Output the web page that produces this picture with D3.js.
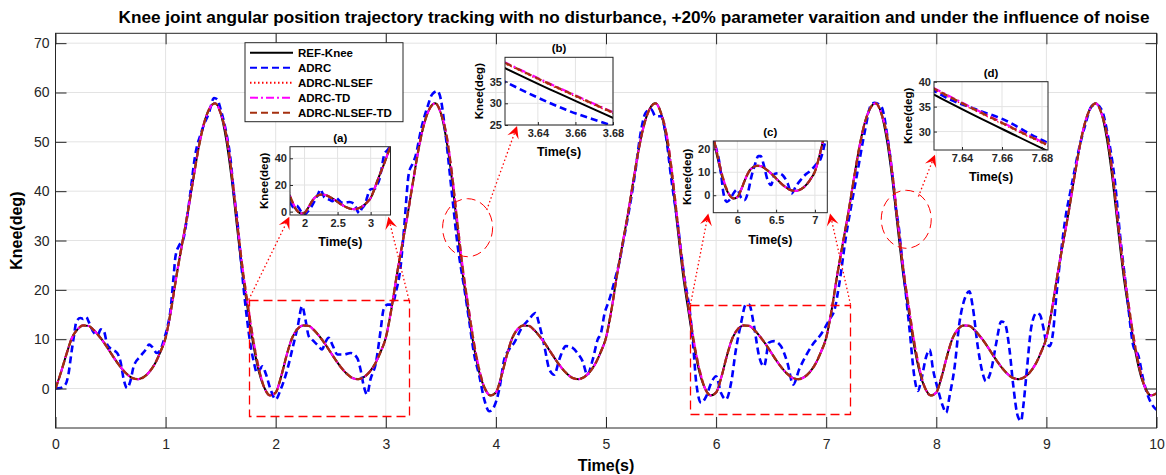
<!DOCTYPE html>
<html>
<head>
<meta charset="utf-8">
<script src="https://cdn.jsdelivr.net/npm/d3@7"></script>
<style>
  body { margin: 0; background: #fff; }
  svg { display: block; font-family: "Liberation Sans", Arial, sans-serif; }
</style>
</head>
<body>
<svg id="chart" width="1166" height="475"></svg>
<script>
// ---- data ----
const sampleStep = 0.05; // reference + controller traces sampled every 0.05 s

const refKnee = [
  0, 3.3, 7, 10.3, 12, 12.8, 12.7, 11.8, 10.5, 9, 7.3, 5.6, 4.1, 2.9, 2.1, 1.9, 2.3, 3.3, 4.9, 7.3, 10.3, 16, 23, 29.3, 35.5, 42.3, 48.8, 53.8, 56.8, 57.8, 55.8, 50.5, 42.5, 32.5, 23, 15.5, 8.5, 3.2, 0, -1.4,
  -0.8, 2.5, 6.8, 10.3, 12.1, 12.8, 12.7, 11.8, 10.5, 9, 7.3, 5.6, 4.1, 2.9, 2.1, 1.9, 2.3, 3.3, 4.9, 7.3, 10.3, 16, 23, 29.3, 35.5, 42.3, 48.8, 53.8, 56.8, 57.8, 55.8, 50.5, 42.5, 32.5, 23, 15.5, 8.5, 3.2, 0, -1.4,
  -0.8, 2.5, 6.8, 10.3, 12.1, 12.8, 12.7, 11.8, 10.5, 9, 7.3, 5.6, 4.1, 2.9, 2.1, 1.9, 2.3, 3.3, 4.9, 7.3, 10.3, 16, 23, 29.3, 35.5, 42.3, 48.8, 53.8, 56.8, 57.8, 55.8, 50.5, 42.5, 32.5, 23, 15.5, 8.5, 3.2, 0, -1.4,
  -0.8, 2.5, 6.8, 10.3, 12.1, 12.8, 12.7, 11.8, 10.5, 9, 7.3, 5.6, 4.1, 2.9, 2.1, 1.9, 2.3, 3.3, 4.9, 7.3, 10.3, 16, 23, 29.3, 35.5, 42.3, 48.8, 53.8, 56.8, 57.8, 55.8, 50.5, 42.5, 32.5, 23, 15.5, 8.5, 3.2, 0, -1.4,
  -0.8, 2.5, 6.8, 10.3, 12.1, 12.8, 12.7, 11.8, 10.5, 9, 7.3, 5.6, 4.1, 2.9, 2.1, 1.9, 2.3, 3.3, 4.9, 7.3, 10.3, 16, 23, 29.3, 35.5, 42.3, 48.8, 53.8, 56.8, 57.8, 55.8, 50.5, 42.5, 32.5, 23, 15.5, 8.5, 3.2, 0, -1.4,
  -1.0
];
const adrcNlsef = [
  0, 3.3, 7, 10.3, 12, 12.8, 12.7, 11.8, 10.5, 9, 7.3, 5.6, 4.1, 2.9, 2.1, 1.9, 2.3, 3.3, 4.9, 7.3, 10.3, 16, 23, 29.3, 35.5, 42.3, 48.8, 53.8, 56.8, 57.8, 55.8, 51.4, 43.5, 33.5, 24, 16.3, 9.2, 3.6, 0, -1.4,
  -0.8, 2.5, 6.8, 10.3, 12.1, 12.8, 12.7, 11.8, 10.5, 9, 7.3, 5.6, 4.1, 2.9, 2.1, 1.9, 2.3, 3.3, 4.9, 7.3, 10.3, 16, 23, 29.3, 35.5, 42.3, 48.8, 53.8, 56.8, 57.8, 55.8, 51.4, 43.5, 33.5, 24, 16.3, 9.2, 3.6, 0, -1.4,
  -0.8, 2.5, 6.8, 10.3, 12.1, 12.8, 12.7, 11.8, 10.5, 9, 7.3, 5.6, 4.1, 2.9, 2.1, 1.9, 2.3, 3.3, 4.9, 7.3, 10.3, 16, 23, 29.3, 35.5, 42.3, 48.8, 53.8, 56.8, 57.8, 55.8, 51.4, 43.5, 33.5, 24, 16.3, 9.2, 3.6, 0, -1.4,
  -0.8, 2.5, 6.8, 10.3, 12.1, 12.8, 12.7, 11.8, 10.5, 9, 7.3, 5.6, 4.1, 2.9, 2.1, 1.9, 2.3, 3.3, 4.9, 7.3, 10.3, 16, 23, 29.3, 35.5, 42.3, 48.8, 53.8, 56.8, 57.8, 55.8, 51.4, 43.5, 33.5, 24, 16.3, 9.2, 3.6, 0, -1.4,
  -0.8, 2.5, 6.8, 10.3, 12.1, 12.8, 12.7, 11.8, 10.5, 9, 7.3, 5.6, 4.1, 2.9, 2.1, 1.9, 2.3, 3.3, 4.9, 7.3, 10.3, 16, 23, 29.3, 35.5, 42.3, 48.8, 53.8, 56.8, 57.8, 55.8, 51.4, 43.5, 33.5, 24, 16.3, 9.2, 3.6, 0, -1.4,
  -1.0
];
const adrcTd = [
  0, 3.3, 7, 10.3, 12, 12.8, 12.7, 11.8, 10.5, 9, 7.3, 5.6, 4.1, 2.9, 2.1, 1.9, 2.3, 3.3, 4.9, 7.3, 10.3, 16, 23, 29.3, 35.5, 42.3, 48.8, 53.8, 56.8, 57.8, 55.8, 51.6, 43.8, 33.8, 24.3, 16.6, 9.4, 3.8, 0, -1.4,
  -0.8, 2.5, 6.8, 10.3, 12.1, 12.8, 12.7, 11.8, 10.5, 9, 7.3, 5.6, 4.1, 2.9, 2.1, 1.9, 2.3, 3.3, 4.9, 7.3, 10.3, 16, 23, 29.3, 35.5, 42.3, 48.8, 53.8, 56.8, 57.8, 55.8, 51.6, 43.8, 33.8, 24.3, 16.6, 9.4, 3.8, 0, -1.4,
  -0.8, 2.5, 6.8, 10.3, 12.1, 12.8, 12.7, 11.8, 10.5, 9, 7.3, 5.6, 4.1, 2.9, 2.1, 1.9, 2.3, 3.3, 4.9, 7.3, 10.3, 16, 23, 29.3, 35.5, 42.3, 48.8, 53.8, 56.8, 57.8, 55.8, 51.6, 43.8, 33.8, 24.3, 16.6, 9.4, 3.8, 0, -1.4,
  -0.8, 2.5, 6.8, 10.3, 12.1, 12.8, 12.7, 11.8, 10.5, 9, 7.3, 5.6, 4.1, 2.9, 2.1, 1.9, 2.3, 3.3, 4.9, 7.3, 10.3, 16, 23, 29.3, 35.5, 42.3, 48.8, 53.8, 56.8, 57.8, 55.8, 51.6, 43.8, 33.8, 24.3, 16.6, 9.4, 3.8, 0, -1.4,
  -0.8, 2.5, 6.8, 10.3, 12.1, 12.8, 12.7, 11.8, 10.5, 9, 7.3, 5.6, 4.1, 2.9, 2.1, 1.9, 2.3, 3.3, 4.9, 7.3, 10.3, 16, 23, 29.3, 35.5, 42.3, 48.8, 53.8, 56.8, 57.8, 55.8, 51.6, 43.8, 33.8, 24.3, 16.6, 9.4, 3.8, 0, -1.4,
  -1.0
];
const adrcNlsefTd = [
  0, 3.3, 7, 10.3, 12, 12.8, 12.7, 11.8, 10.5, 9, 7.3, 5.6, 4.1, 2.9, 2.1, 1.9, 2.3, 3.3, 4.9, 7.3, 10.3, 16, 23, 29.3, 35.5, 42.3, 48.8, 53.8, 56.8, 57.8, 55.8, 51.5, 43.7, 33.7, 24.2, 16.5, 9.3, 3.7, 0, -1.4,
  -0.8, 2.5, 6.8, 10.3, 12.1, 12.8, 12.7, 11.8, 10.5, 9, 7.3, 5.6, 4.1, 2.9, 2.1, 1.9, 2.3, 3.3, 4.9, 7.3, 10.3, 16, 23, 29.3, 35.5, 42.3, 48.8, 53.8, 56.8, 57.8, 55.8, 51.5, 43.7, 33.7, 24.2, 16.5, 9.3, 3.7, 0, -1.4,
  -0.8, 2.5, 6.8, 10.3, 12.1, 12.8, 12.7, 11.8, 10.5, 9, 7.3, 5.6, 4.1, 2.9, 2.1, 1.9, 2.3, 3.3, 4.9, 7.3, 10.3, 16, 23, 29.3, 35.5, 42.3, 48.8, 53.8, 56.8, 57.8, 55.8, 51.5, 43.7, 33.7, 24.2, 16.5, 9.3, 3.7, 0, -1.4,
  -0.8, 2.5, 6.8, 10.3, 12.1, 12.8, 12.7, 11.8, 10.5, 9, 7.3, 5.6, 4.1, 2.9, 2.1, 1.9, 2.3, 3.3, 4.9, 7.3, 10.3, 16, 23, 29.3, 35.5, 42.3, 48.8, 53.8, 56.8, 57.8, 55.8, 51.5, 43.7, 33.7, 24.2, 16.5, 9.3, 3.7, 0, -1.4,
  -0.8, 2.5, 6.8, 10.3, 12.1, 12.8, 12.7, 11.8, 10.5, 9, 7.3, 5.6, 4.1, 2.9, 2.1, 1.9, 2.3, 3.3, 4.9, 7.3, 10.3, 16, 23, 29.3, 35.5, 42.3, 48.8, 53.8, 56.8, 57.8, 55.8, 51.5, 43.7, 33.7, 24.2, 16.5, 9.3, 3.7, 0, -1.4,
  -1.0
];

// plain ADRC is noisy, so it's read at its own (irregular) times
const adrcTime = [
  0, 0.045, 0.09, 0.12, 0.14, 0.167, 0.19, 0.227, 0.25, 0.28, 0.3, 0.35, 0.385, 0.41, 0.44, 0.47, 0.515, 0.56, 0.59, 0.62, 0.65, 0.68, 0.71, 0.77, 0.82, 0.85, 0.88, 0.92, 0.955, 0.985,
  1.015, 1.045, 1.07, 1.09, 1.12, 1.16, 1.197, 1.24, 1.258, 1.333, 1.394, 1.44, 1.47, 1.5, 1.545, 1.59, 1.62, 1.65, 1.68, 1.71, 1.74, 1.77, 1.8, 1.83, 1.86, 1.88, 1.91, 1.955,
  2.0, 2.045, 2.106, 2.15, 2.2, 2.24, 2.27, 2.3, 2.33, 2.39, 2.42, 2.45, 2.48, 2.52, 2.56, 2.62, 2.68, 2.74, 2.77, 2.8, 2.83, 2.86, 2.91, 2.95, 2.98,
  3.015, 3.06, 3.09, 3.135, 3.165, 3.21, 3.24, 3.27, 3.32, 3.38, 3.42, 3.47, 3.5, 3.545, 3.59, 3.6223, 3.639, 3.655, 3.673, 3.69, 3.71, 3.76, 3.8, 3.85, 3.894, 3.94, 3.985,
  4.03, 4.076, 4.12, 4.167, 4.227, 4.3, 4.36, 4.39, 4.44, 4.485, 4.53, 4.576, 4.636, 4.7, 4.74, 4.788, 4.83, 4.88, 4.924, 4.955, 4.985,
  5.03, 5.08, 5.12, 5.15, 5.2, 5.26, 5.32, 5.36, 5.41, 5.45, 5.5, 5.545, 5.59, 5.65, 5.71, 5.766, 5.79, 5.82, 5.864, 5.91, 5.955,
  6.0, 6.045, 6.09, 6.136, 6.18, 6.227, 6.27, 6.3, 6.345, 6.39, 6.436, 6.48, 6.527, 6.588, 6.648, 6.7, 6.755, 6.815, 6.876, 6.95,
  7.03, 7.076, 7.12, 7.18, 7.227, 7.288, 7.348, 7.41, 7.44, 7.5, 7.56, 7.62, 7.6347, 7.648, 7.6615, 7.675, 7.685, 7.71, 7.76, 7.8, 7.833, 7.864, 7.91, 7.94, 7.97,
  8.015, 8.06, 8.09, 8.12, 8.167, 8.21, 8.255, 8.3, 8.33, 8.376, 8.42, 8.45, 8.5, 8.545, 8.59, 8.62, 8.667, 8.697, 8.74, 8.77, 8.79, 8.82, 8.864, 8.91, 8.94, 8.97,
  9.0, 9.03, 9.06, 9.09, 9.136, 9.18, 9.21, 9.24, 9.288, 9.35, 9.41, 9.45, 9.5, 9.56, 9.62, 9.67, 9.73, 9.79, 9.836, 9.88, 9.924, 9.97, 10.0
];
const adrcKnee = [
  0, 0.1, 0.8, 3.2, 6.5, 10.6, 13.6, 14.3, 14.1, 14.5, 13.6, 11.3, 10.9, 12, 11.6, 8.9, 7.9, 7.2, 5.5, 1.8, 0.1, 1.5, 4.5, 6.5, 7.9, 8.9, 8.4, 7.2, 7.9, 9.9,
  12.3, 16, 22, 26.8, 28.9, 30.2, 35, 42.4, 45.7, 52.5, 55.9, 58.9, 58.6, 56.6, 52.5, 46.4, 39.7, 34.3, 27, 20, 14, 9, 5.5, 3.2, 4, 4.5, 3, -0.3,
  -2.2, -0.2, 3.9, 7.9, 12.6, 16.7, 14, 10.6, 9.9, 8.6, 7.9, 9.3, 10.3, 8.6, 6.9, 6.9, 7.2, 6.2, 3.9, 0.5, -1.2, 1.8, 5.2, 11.3, 16,
  17, 17, 19.4, 24.8, 32.2, 43.7, 45.4, 47.1, 52.5, 57.2, 59.6, 60.3, 58.6, 51.1, 41.7, 35, 31.5, 28.5, 25.8, 23.4, 20.7, 13.3, 7.2, 2.5, -2.2, -4.6, -3.6,
  -0.2, 5.9, 7.9, 9.3, 12, 14, 15.3, 13.3, 8.6, 3.9, 2.8, 5.9, 8.6, 8.2, 7.2, 5.5, 2.8, 5.9, 9.9, 11.3, 15,
  18, 22, 25.5, 29, 34.9, 43, 52.5, 55.9, 56.6, 55.2, 55.2, 51.1, 43, 33.6, 22.8, 14.7, 9.3, 1.1, -2.9, -1.6, 1.1,
  2.5, -0.9, -2.2, 1.1, 7.9, 13.3, 17, 17, 12.6, 6.6, 4.5, 9.3, 9.6, 8.6, 5.2, 0.8, 3.9, 6.6, 8.9, 10.9,
  14, 16, 21.4, 30.9, 37, 44.4, 51.8, 57.6, 57.9, 57.2, 50.5, 39.5, 36.3, 34.3, 32.3, 29.3, 27.3, 22.1, 11.3, 2.5, -0.5, 1.8, 6.6, 7.9, 3.9,
  -0.2, -3.6, -4.9, -1.6, 4.5, 13.3, 18, 19.7, 16.7, 8.6, 3.2, 1.5, 3.9, 9.3, 13.6, 13.3, 7.5, 1, -5.6, -6.6, -3.6, 3.2, 12.6, 15.3, 15, 12.6,
  9.3, 8.6, 11.3, 18.7, 28.2, 35.6, 39, 42.4, 47.8, 53.2, 57.2, 57.6, 56.6, 51.1, 42.4, 30.9, 19.4, 8.6, 6.6, 1.8, -1.6, -3.6, -4.3
];

const seriesNames = ["REF-Knee", "ADRC", "ADRC-NLSEF", "ADRC-TD", "ADRC-NLSEF-TD"];
const xTickValues = [0, 1, 2, 3, 4, 5, 6, 7, 8, 9, 10];
const yTickValues = [0, 10, 20, 30, 40, 50, 60, 70];

// zoomed insets (a)-(d)
const insetLabels = ["(a)", "(b)", "(c)", "(d)"];
const insetXDomains = [[1.78, 3.3], [3.6225, 3.68], [5.69, 7.16], [7.626, 7.683]];
const insetYDomains = [[-2.5, 48.7], [25, 40.6], [-7.6, 23.6], [26.3, 40]];
const insetXTicks = [[2, 2.5, 3], [3.64, 3.66, 3.68], [6, 6.5, 7], [7.64, 7.66, 7.68]];
const insetYTicks = [[0, 20, 40], [25, 30, 35], [0, 10, 20], [30, 35, 40]];

// zoom markers on the main axes, in data units
const zoomRects = [[1.755, 3.21, -5.6, 18], [5.767, 7.221, -5.15, 17]]; // t0, t1, y0, y1
const zoomCircles = [[3.743, 32.6], [7.727, 34.3]];
const zoomArrows = [
  [1.755, 18, 2.124, 34.8], [3.21, 18, 3.023, 34.8],
  [3.917, 36.2, 4.192, 53.2],
  [5.767, 17, 5.929, 35.5], [7.221, 17, 7.035, 35.5],
  [7.837, 38.9, 7.988, 47.4]
];

// ---- layout ----
const svg = d3.select("#chart");
const plot = { left: 55.5, right: 1156.5, top: 33.3, bottom: 428 };
const axisColor = "#262626", gridColor = "#e3e3e3";

const x = d3.scaleLinear().domain([0, 10]).range([plot.left, plot.right]);
const y = d3.scaleLinear().domain([-8, 72]).range([plot.bottom, plot.top]);

const sampleTimes = refKnee.map((_, i) => i * sampleStep);
const zip = (ts, vs) => ts.map((t, i) => [t, vs[i]]);
const seriesStyles = [
  { color: "#000000", width: 2, dash: null },
  { color: "#0000ff", width: 2.6, dash: "7,4" },
  { color: "#ff0000", width: 1.2, dash: "1.5,2.5" },
  { color: "#ff00ff", width: 2.2, dash: "8,3,2,3" },
  { color: "#a5300f", width: 2.3, dash: "7,4" }
];
const seriesPoints = [
  zip(sampleTimes, refKnee),
  zip(adrcTime, adrcKnee),
  zip(sampleTimes, adrcNlsef),
  zip(sampleTimes, adrcTd),
  zip(sampleTimes, adrcNlsefTd)
];

function drawSeries(g, sx, sy) {
  const line = d3.line().x(d => sx(d[0])).y(d => sy(d[1])).curve(d3.curveMonotoneX);
  seriesPoints.forEach((pts, i) => {
    const st = seriesStyles[i];
    g.append("path").datum(pts).attr("d", line)
      .attr("fill", "none").attr("stroke", st.color).attr("stroke-width", st.width)
      .attr("stroke-dasharray", st.dash).attr("stroke-linejoin", "round");
  });
}

// title
svg.append("text").attr("x", 634).attr("y", 23)
  .attr("text-anchor", "middle").attr("font-weight", "bold").attr("font-size", 17.2)
  .attr("fill", "#000")
  .text("Knee joint angular position trajectory tracking with no disturbance, +20% parameter varaition and under the influence of noise");

// main grid
const main = svg.append("g");
main.append("g").selectAll("line").data(xTickValues).join("line")
  .attr("x1", d => x(d)).attr("x2", d => x(d)).attr("y1", plot.top).attr("y2", plot.bottom)
  .attr("stroke", gridColor);
main.append("g").selectAll("line").data(yTickValues).join("line")
  .attr("y1", d => y(d)).attr("y2", d => y(d)).attr("x1", plot.left).attr("x2", plot.right)
  .attr("stroke", gridColor);

svg.append("clipPath").attr("id", "clip-main").append("rect")
  .attr("x", plot.left).attr("y", plot.top)
  .attr("width", plot.right - plot.left).attr("height", plot.bottom - plot.top);
drawSeries(main.append("g").attr("clip-path", "url(#clip-main)"), x, y);

// axes: inward ticks on all four sides, labels bottom/left
function styleAxis(g) {
  g.select(".domain").remove();
  g.selectAll(".tick line").attr("stroke", axisColor);
  g.selectAll(".tick text").attr("fill", axisColor).attr("font-size", 14);
}
main.append("g").attr("transform", `translate(0,${plot.bottom})`)
  .call(d3.axisBottom(x).tickValues(xTickValues).tickSizeInner(-11).tickSizeOuter(0).tickPadding(11))
  .call(styleAxis);
main.append("g").attr("transform", `translate(0,${plot.top})`)
  .call(d3.axisTop(x).tickValues(xTickValues).tickSizeInner(-11).tickSizeOuter(0).tickFormat(""))
  .call(styleAxis);
main.append("g").attr("transform", `translate(${plot.left},0)`)
  .call(d3.axisLeft(y).tickValues(yTickValues).tickSizeInner(-11).tickSizeOuter(0).tickPadding(6))
  .call(styleAxis);
main.append("g").attr("transform", `translate(${plot.right},0)`)
  .call(d3.axisRight(y).tickValues(yTickValues).tickSizeInner(-11).tickSizeOuter(0).tickFormat(""))
  .call(styleAxis);
main.append("rect").attr("x", plot.left).attr("y", plot.top)
  .attr("width", plot.right - plot.left).attr("height", plot.bottom - plot.top)
  .attr("fill", "none").attr("stroke", axisColor);

main.append("text").attr("x", (plot.left + plot.right) / 2).attr("y", 471)
  .attr("text-anchor", "middle").attr("font-weight", "bold").attr("font-size", 16).text("Time(s)");
main.append("text").attr("transform", `translate(22,${(plot.top + plot.bottom) / 2}) rotate(-90)`)
  .attr("text-anchor", "middle").attr("font-weight", "bold").attr("font-size", 16).text("Knee(deg)");

// zoom markers + connectors
const notes = svg.append("g").attr("stroke", "#ff0000").attr("fill", "none");
zoomRects.forEach(([t0, t1, v0, v1]) => {
  notes.append("rect").attr("x", Math.round(x(t0)) + 0.5).attr("y", Math.round(y(v1)) + 0.5)
    .attr("width", Math.round(x(t1) - x(t0))).attr("height", Math.round(y(v0) - y(v1)))
    .attr("stroke-width", 1.3).attr("stroke-dasharray", "9,5");
});
zoomCircles.forEach(([t, v]) => {
  notes.append("ellipse").attr("cx", x(t)).attr("cy", y(v)).attr("rx", 25).attr("ry", 29)
    .attr("stroke-width", 1).attr("stroke-dasharray", "9,5");
});

// insets
const insetBoxes = [[290, 146.7, 390.5, 215], [505, 57.3, 613, 125], [713.3, 141, 827.3, 212.7], [934, 81.7, 1048, 150]];
const insetTickFormat = d3.format("~g");
insetLabels.forEach((lab, k) => {
  const [bx0, by0, bx1, by1] = insetBoxes[k];
  const ix = d3.scaleLinear().domain(insetXDomains[k]).range([bx0, bx1]);
  const iy = d3.scaleLinear().domain(insetYDomains[k]).range([by1, by0]);
  const g = svg.append("g");
  g.append("rect").attr("x", bx0).attr("y", by0).attr("width", bx1 - bx0).attr("height", by1 - by0).attr("fill", "#fff");
  g.append("g").selectAll("line").data(insetXTicks[k]).join("line")
    .attr("x1", d => ix(d)).attr("x2", d => ix(d)).attr("y1", by0).attr("y2", by1).attr("stroke", gridColor);
  g.append("g").selectAll("line").data(insetYTicks[k]).join("line")
    .attr("y1", d => iy(d)).attr("y2", d => iy(d)).attr("x1", bx0).attr("x2", bx1).attr("stroke", gridColor);
  const cid = "clip-inset-" + k;
  svg.append("clipPath").attr("id", cid).append("rect")
    .attr("x", bx0).attr("y", by0).attr("width", bx1 - bx0).attr("height", by1 - by0);
  drawSeries(g.append("g").attr("clip-path", `url(#${cid})`), ix, iy);

  const styleInset = s => {
    s.select(".domain").remove();
    s.selectAll(".tick line").attr("stroke", axisColor);
    s.selectAll(".tick text").attr("fill", axisColor).attr("font-size", 11).attr("font-weight", "bold");
  };
  g.append("g").attr("transform", `translate(0,${by1})`)
    .call(d3.axisBottom(ix).tickValues(insetXTicks[k]).tickFormat(insetTickFormat)
      .tickSizeInner(-3).tickSizeOuter(0).tickPadding(4)).call(styleInset);
  g.append("g").attr("transform", `translate(${bx0},0)`)
    .call(d3.axisLeft(iy).tickValues(insetYTicks[k]).tickFormat(insetTickFormat)
      .tickSizeInner(-3).tickSizeOuter(0).tickPadding(3)).call(styleInset);
  g.append("rect").attr("x", bx0).attr("y", by0).attr("width", bx1 - bx0).attr("height", by1 - by0)
    .attr("fill", "none").attr("stroke", axisColor);

  g.append("text").attr("x", (bx0 + bx1) / 2).attr("y", by0 - 5).attr("text-anchor", "middle")
    .attr("font-weight", "bold").attr("font-size", 11.5).text(lab);
  g.append("text").attr("x", (bx0 + bx1) / 2).attr("y", by1 + 31).attr("text-anchor", "middle")
    .attr("font-weight", "bold").attr("font-size", 12.5).text("Time(s)");
  g.append("text").attr("transform", `translate(${bx0 - 22},${(by0 + by1) / 2}) rotate(-90)`)
    .attr("text-anchor", "middle").attr("font-weight", "bold").attr("font-size", 11.5).text("Knee(deg)");
});

// dotted connectors with arrow heads
const arrows = svg.append("g");
zoomArrows.forEach(([t0, v0, t1, v1]) => {
  const x0 = x(t0), y0 = y(v0), x1 = x(t1), y1 = y(v1);
  const ang = Math.atan2(y1 - y0, x1 - x0);
  const rot = (u, v) => [x1 + u * Math.cos(ang) - v * Math.sin(ang), y1 + u * Math.sin(ang) + v * Math.cos(ang)];
  const back = rot(-7, 0);
  arrows.append("line").attr("x1", x0).attr("y1", y0).attr("x2", back[0]).attr("y2", back[1])
    .attr("stroke", "#ff0000").attr("stroke-width", 1.3).attr("stroke-dasharray", "1.5,2.5");
  arrows.append("polygon").attr("points", [rot(0, 0), rot(-12, -6), rot(-7, 0), rot(-12, 6)].join(" "))
    .attr("fill", "#ff0000");
});

// legend
const leg = svg.append("g");
const legBox = { x: 245, y: 42.7, w: 158, h: 79 };
leg.append("rect").attr("x", legBox.x).attr("y", legBox.y).attr("width", legBox.w).attr("height", legBox.h)
  .attr("fill", "#fff").attr("stroke", axisColor);
seriesNames.forEach((name, i) => {
  const st = seriesStyles[i];
  const ly = legBox.y + 10 + i * 15;
  leg.append("line").attr("x1", legBox.x + 5).attr("x2", legBox.x + 48).attr("y1", ly).attr("y2", ly)
    .attr("stroke", st.color).attr("stroke-width", 2).attr("stroke-dasharray", st.dash);
  leg.append("text").attr("x", legBox.x + 53).attr("y", ly).attr("dy", "0.35em")
    .attr("font-weight", "bold").attr("font-size", 11.5).attr("fill", "#000").text(name);
});
</script>
</body>
</html>
